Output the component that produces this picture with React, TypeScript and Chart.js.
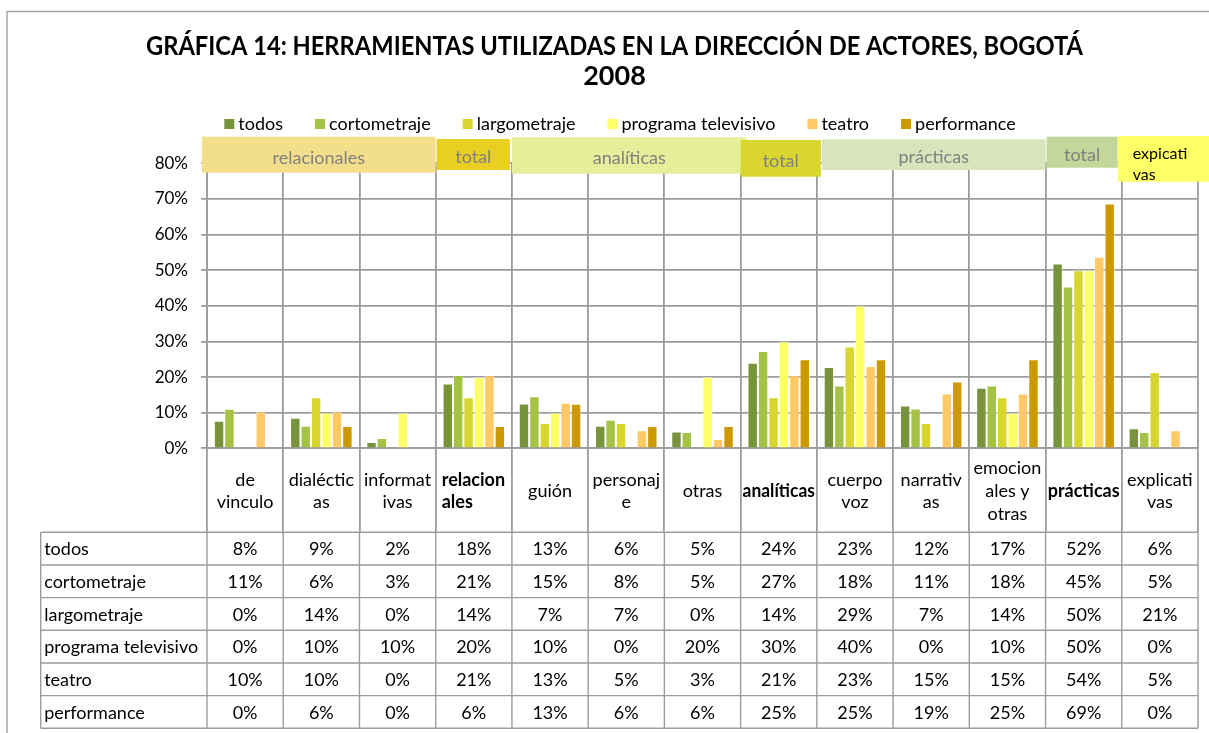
import React, { useEffect, useRef } from "react";
import { Chart, registerables } from "chart.js";

Chart.register(...registerables);

// ---------- DATA ----------
const titleLines = [
  "GRÁFICA 14: HERRAMIENTAS UTILIZADAS EN LA DIRECCIÓN DE ACTORES, BOGOTÁ",
  "2008",
];
const categoryLabels: string[][] = [
  ["de", "vinculo"],
  ["dialéctic", "as"],
  ["informat", "ivas"],
  ["relacion", "ales"],
  ["guión"],
  ["personaj", "e"],
  ["otras"],
  ["analíticas"],
  ["cuerpo", "voz"],
  ["narrativ", "as"],
  ["emocion", "ales y", "otras"],
  ["prácticas"],
  ["explicati", "vas"],
];
const categoryIsTotal = [false, false, false, true, false, false, false, true, false, false, false, true, false];
const seriesNames = ["todos", "cortometraje", "largometraje", "programa televisivo", "teatro", "performance"];
const todos = [7.7, 8.6, 1.8, 18.2, 12.6, 6.3, 4.7, 24.0, 22.8, 12.0, 17.0, 51.9, 5.6];
const cortometraje = [11.1, 6.3, 2.9, 20.6, 14.6, 8.0, 4.6, 27.3, 17.6, 11.2, 17.6, 45.4, 4.6];
const largometraje = [0, 14.3, 0, 14.3, 7.1, 7.1, 0, 14.3, 28.6, 7.1, 14.3, 50.0, 21.4];
const programaTelevisivo = [0, 10, 10, 20, 10, 0, 20, 30, 40, 0, 10, 50, 0];
const teatro = [10.3, 10.3, 0, 20.5, 12.8, 5.1, 2.6, 20.5, 23.1, 15.4, 15.4, 53.8, 5.1];
const performance = [0, 6.25, 0, 6.25, 12.5, 6.25, 6.25, 25, 25, 18.75, 25, 68.75, 0];
const seriesValues = [todos, cortometraje, largometraje, programaTelevisivo, teatro, performance];
const yMin = 0;
const yMax = 80;
const yStep = 10;
// group header bands: label, first and last category index
const groupLabels = ["relacionales", "total", "analíticas", "total", "prácticas", "total", "expicati vas"];
const groupFrom = [0, 3, 4, 7, 8, 11, 12];
const groupTo = [2, 3, 6, 7, 10, 11, 12];

// ---------- STYLE ----------
const FONT = "Lato, 'Open Sans', sans-serif";
const TXT = 18;
const seriesColors = ["#77933C", "#A4C244", "#D9D52F", "#FFFF66", "#FFCA66", "#CC9900"];
const bandColors = ["#F3DF8B", "#E8CF22", "#E6EE99", "#D9D62F", "#D8E4BC", "#C4D79B", "#FFFF66"];
// [dx left, dx right, top y, bottom y]
const bandBoxes = [
  [-5, 0, 136.7, 172.7],
  [1, -2, 139, 170],
  [0, 6, 137.3, 173.7],
  [0, 4, 140, 176.7],
  [5, 0, 139.3, 170],
  [1, -4, 136.7, 167.7],
  [-4, 11, 136, 181.7],
];
const GRID = "#9c9c9c";
const LABEL_H = 84;
const ROW_H = 32.67;
const TABLE_LEFT = 40.7;

const overlay = {
  id: "overlay",
  afterDraw(chart: any) {
    const ctx: CanvasRenderingContext2D = chart.ctx;
    const xs = chart.scales.x;
    const area = chart.chartArea;
    const n = categoryLabels.length;
    const half = (xs.getPixelForValue(1) - xs.getPixelForValue(0)) / 2;
    const edge = (i: number) => xs.getPixelForValue(i) - half;
    ctx.save();

    // frame
    ctx.strokeStyle = "#a6a6a6";
    ctx.lineWidth = 1.5;
    ctx.beginPath();
    ctx.moveTo(7, 733);
    ctx.lineTo(7, 11.5);
    ctx.lineTo(1209, 11.5);
    ctx.stroke();

    // title
    ctx.fillStyle = "#000";
    ctx.textAlign = "center";
    ctx.textBaseline = "alphabetic";
    ctx.font = `bold 27px ${FONT}`;
    ctx.fillText(titleLines[0], 614.5, 55, 937);
    ctx.fillText(titleLines[1], 614.5, 85);

    // legend
    ctx.font = `${TXT}px ${FONT}`;
    const widths = seriesNames.map((s) => ctx.measureText(s).width);
    const gap = 32;
    const total = widths.reduce((a, w) => a + 14 + w, 0) + gap * (seriesNames.length - 1);
    let lx = 620 - total / 2;
    ctx.textAlign = "left";
    ctx.textBaseline = "middle";
    seriesNames.forEach((s, i) => {
      ctx.fillStyle = seriesColors[i];
      ctx.fillRect(lx, 119, 10, 10);
      ctx.fillStyle = "#000";
      ctx.fillText(s, lx + 14, 124.5);
      lx += 14 + widths[i] + gap;
    });

    // group bands
    groupLabels.forEach((g, i) => {
      const [dl, dr, t, b] = bandBoxes[i];
      const x0 = edge(groupFrom[i]) + dl;
      const x1 = edge(groupTo[i] + 1) + dr;
      ctx.fillStyle = bandColors[i];
      ctx.fillRect(x0, t, x1 - x0, b - t);
      if (i === groupLabels.length - 1) {
        ctx.fillStyle = "#000";
        ctx.font = `16px ${FONT}`;
        ctx.textAlign = "left";
        const parts = g.split(" ");
        ctx.fillText(parts[0], x0 + 15, 153.5);
        ctx.fillText(parts[1], x0 + 15, 175);
      } else {
        ctx.fillStyle = "#808080";
        ctx.font = `${TXT}px ${FONT}`;
        ctx.textAlign = "center";
        ctx.fillText(g, (x0 + x1) / 2, (t + b) / 2 + 3);
      }
    });

    // category label cells
    const cellTop = area.bottom;
    const tableTop = area.bottom + LABEL_H;
    const lh = 22.7;
    const cellW = half * 2;
    categoryLabels.forEach((lines, i) => {
      ctx.font = `${categoryIsTotal[i] ? "bold " : ""}${TXT}px ${FONT}`;
      ctx.fillStyle = "#000";
      const cx = xs.getPixelForValue(i);
      const cy = (cellTop + tableTop) / 2;
      const y0 = cy - ((lines.length - 1) * lh) / 2;
      const leftAlign = categoryIsTotal[i] && lines.length > 1;
      ctx.textAlign = leftAlign ? "left" : "center";
      lines.forEach((ln, k) => {
        ctx.fillText(ln, leftAlign ? edge(i) + 6 : cx, y0 + k * lh + 1, cellW - 4);
      });
    });

    // data table
    const rows = seriesNames.length;
    const tableBottom = tableTop + rows * ROW_H;
    ctx.strokeStyle = GRID;
    ctx.lineWidth = 1.4;
    ctx.beginPath();
    for (let r = 0; r <= rows; r++) {
      const y = tableTop + r * ROW_H;
      ctx.moveTo(TABLE_LEFT, y);
      ctx.lineTo(area.right, y);
    }
    ctx.moveTo(TABLE_LEFT, tableTop);
    ctx.lineTo(TABLE_LEFT, tableBottom);
    for (let i = 0; i <= n; i++) {
      const x = edge(i);
      ctx.moveTo(x, tableTop);
      ctx.lineTo(x, tableBottom);
    }
    ctx.stroke();

    ctx.font = `${TXT}px ${FONT}`;
    ctx.fillStyle = "#000";
    ctx.textBaseline = "middle";
    seriesNames.forEach((s, r) => {
      const cy = tableTop + r * ROW_H + ROW_H / 2 + 1;
      ctx.textAlign = "left";
      ctx.fillText(s, TABLE_LEFT + 3.5, cy);
      ctx.textAlign = "center";
      seriesValues[r].forEach((v, i) => {
        ctx.fillText(`${Math.round(v)}%`, xs.getPixelForValue(i), cy);
      });
    });
    ctx.restore();
  },
};

export default function App() {
  const ref = useRef<HTMLCanvasElement | null>(null);
  useEffect(() => {
    if (!ref.current) return;
    const chart = new Chart(ref.current, {
      type: "bar",
      data: {
        labels: categoryLabels.map((l) => l.join(" ")),
        datasets: seriesNames.map((name, i) => ({
          label: name,
          data: seriesValues[i],
          backgroundColor: seriesColors[i],
          borderColor: "rgba(255,255,255,0.45)",
          borderWidth: 1,
          categoryPercentage: 0.82,
          barPercentage: 1,
        })),
      },
      options: {
        animation: false,
        responsive: false,
        devicePixelRatio: 1,
        layout: { padding: { left: 0, right: 11, top: 163.3, bottom: 0 } },
        plugins: {
          legend: { display: false },
          title: { display: false },
          tooltip: { enabled: false },
        },
        scales: {
          x: {
            offset: true,
            grid: { display: true, offset: true, color: GRID, lineWidth: 1.8, tickLength: LABEL_H, drawTicks: true },
            border: { display: true, color: GRID, width: 1.8 },
            ticks: { display: false },
            afterFit: (scale: any) => {
              scale.height = 733 - 448.3;
            },
          },
          y: {
            min: yMin,
            max: yMax,
            grid: { color: GRID, lineWidth: 1.8, tickLength: 6 },
            border: { display: true, color: GRID, width: 1.8 },
            ticks: {
              stepSize: yStep,
              padding: 13,
              color: "#000",
              font: { family: FONT, size: 17 },
              callback: (v: any) => `${v}%`,
            },
            afterFit: (scale: any) => {
              scale.width = 207;
            },
          },
        },
      },
      plugins: [overlay],
    });
    return () => chart.destroy();
  }, []);
  return (
    <div style={{ position: "absolute", left: 0, top: 0, width: 1209, height: 733, background: "#fff" }}>
      <canvas ref={ref} width={1209} height={733} style={{ display: "block" }} />
    </div>
  );
}
